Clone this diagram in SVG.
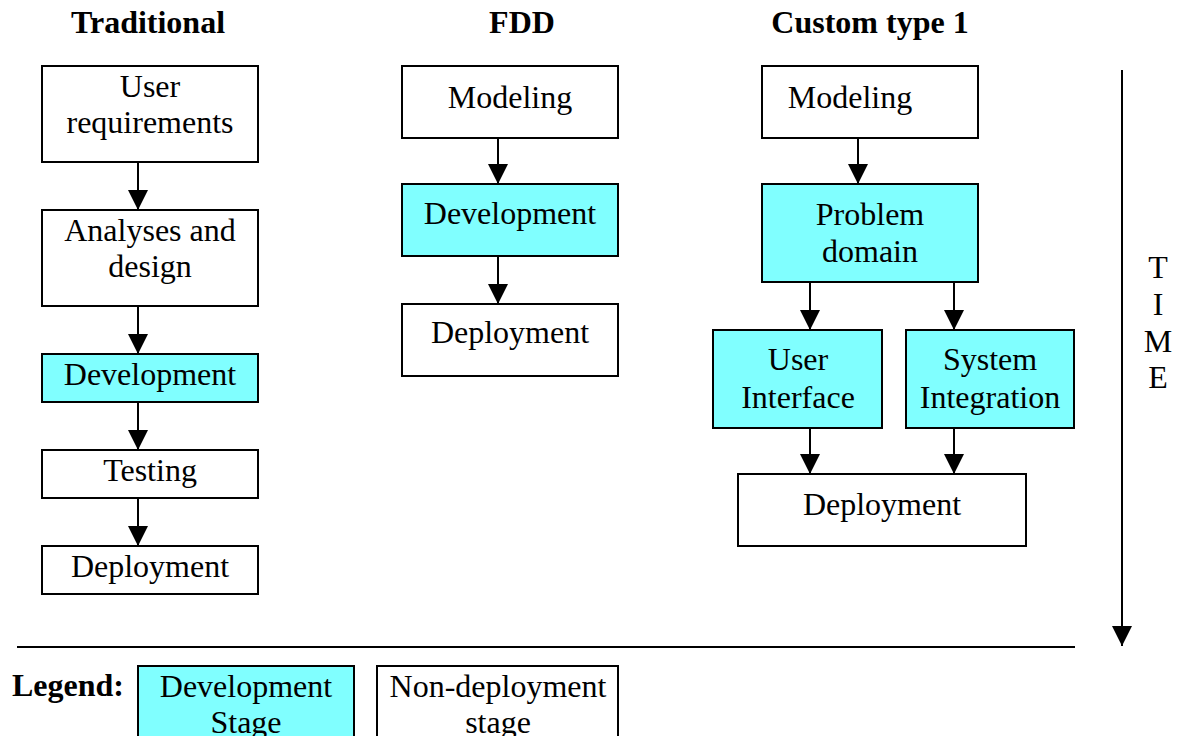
<svg xmlns="http://www.w3.org/2000/svg" width="1180" height="736" viewBox="0 0 1180 736">
<style>
text{font-family:"Liberation Serif","Times New Roman",serif;font-size:32px;fill:#000;text-anchor:middle}
.title{font-weight:bold}
.box{stroke:#000;stroke-width:2;fill:#fff}
.dev{fill:#80FFFF}
.conn line{stroke:#000;stroke-width:2}
</style>
<defs>
<marker id="ah" markerUnits="userSpaceOnUse" markerWidth="20" markerHeight="20" viewBox="0 0 20 20" refX="10" refY="20" orient="auto-start-reverse">
<path d="M0,0 L20,0 L10,20 Z" fill="#000"/>
</marker>
<marker id="ahd" markerUnits="userSpaceOnUse" markerWidth="20" markerHeight="20" viewBox="0 0 20 20" refX="20" refY="10" orient="auto">
<path d="M0,0 L20,10 L0,20 Z" fill="#000"/>
</marker>
</defs>
<rect width="1180" height="736" fill="#fff"/>

<g id="titles">
<text class="title" x="148" y="33">Traditional</text>
<text class="title" x="522" y="33">FDD</text>
<text class="title" x="870" y="33">Custom type 1</text>
</g>

<g class="conn" id="connectors">
<line x1="138" y1="162" x2="138" y2="210" marker-end="url(#ahd)"/>
<line x1="138" y1="306" x2="138" y2="354" marker-end="url(#ahd)"/>
<line x1="138" y1="402" x2="138" y2="450" marker-end="url(#ahd)"/>
<line x1="138" y1="498" x2="138" y2="546" marker-end="url(#ahd)"/>
<line x1="498" y1="138" x2="498" y2="184" marker-end="url(#ahd)"/>
<line x1="498" y1="256" x2="498" y2="304" marker-end="url(#ahd)"/>
<line x1="858" y1="138" x2="858" y2="184" marker-end="url(#ahd)"/>
<line x1="810" y1="282" x2="810" y2="330" marker-end="url(#ahd)"/>
<line x1="954" y1="282" x2="954" y2="330" marker-end="url(#ahd)"/>
<line x1="810" y1="428" x2="810" y2="474" marker-end="url(#ahd)"/>
<line x1="954" y1="428" x2="954" y2="474" marker-end="url(#ahd)"/>
<line x1="1122" y1="70" x2="1122" y2="646" marker-end="url(#ahd)"/>
<line x1="17" y1="647" x2="1075" y2="647"/>
</g>

<g id="t-userreq">
<rect class="box" x="42" y="66" width="216" height="96"/>
<text x="150" y="97">User</text>
<text x="150" y="133">requirements</text>
</g>
<g id="t-analyses">
<rect class="box" x="42" y="210" width="216" height="96"/>
<text x="150" y="241">Analyses and</text>
<text x="150" y="277">design</text>
</g>
<g id="t-dev">
<rect class="box dev" x="42" y="354" width="216" height="48"/>
<text x="150" y="385">Development</text>
</g>
<g id="t-testing">
<rect class="box" x="42" y="450" width="216" height="48"/>
<text x="150" y="481">Testing</text>
</g>
<g id="t-deploy">
<rect class="box" x="42" y="546" width="216" height="48"/>
<text x="150" y="577">Deployment</text>
</g>

<g id="f-model">
<rect class="box" x="402" y="66" width="216" height="72"/>
<text x="510" y="108">Modeling</text>
</g>
<g id="f-dev">
<rect class="box dev" x="402" y="184" width="216" height="72"/>
<text x="510" y="224">Development</text>
</g>
<g id="f-deploy">
<rect class="box" x="402" y="304" width="216" height="72"/>
<text x="510" y="343">Deployment</text>
</g>

<g id="c-model">
<rect class="box" x="762" y="66" width="216" height="72"/>
<text x="850" y="108">Modeling</text>
</g>
<g id="c-problem">
<rect class="box dev" x="762" y="184" width="216" height="98"/>
<text x="870" y="225">Problem</text>
<text x="870" y="262">domain</text>
</g>
<g id="c-ui">
<rect class="box dev" x="713" y="330" width="169" height="98"/>
<text x="798" y="370">User</text>
<text x="798" y="408">Interface</text>
</g>
<g id="c-si">
<rect class="box dev" x="906" y="330" width="168" height="98"/>
<text x="990" y="370">System</text>
<text x="990" y="408">Integration</text>
</g>
<g id="c-deploy">
<rect class="box" x="738" y="474" width="288" height="72"/>
<text x="882" y="515">Deployment</text>
</g>

<g id="time-label">
<text x="1158" y="278">T</text>
<text x="1158" y="315">I</text>
<text x="1158" y="352">M</text>
<text x="1158" y="388">E</text>
</g>

<g id="legend">
<text class="title" x="68" y="696">Legend:</text>
</g>
<g id="legend-dev">
<rect class="box dev" x="138" y="666" width="216" height="100"/>
<text x="246" y="697">Development</text>
<text x="246" y="733">Stage</text>
</g>
<g id="legend-nondeploy">
<rect class="box" x="377" y="666" width="241" height="100"/>
<text x="498" y="697">Non-deployment</text>
<text x="498" y="733">stage</text>
</g>
</svg>
